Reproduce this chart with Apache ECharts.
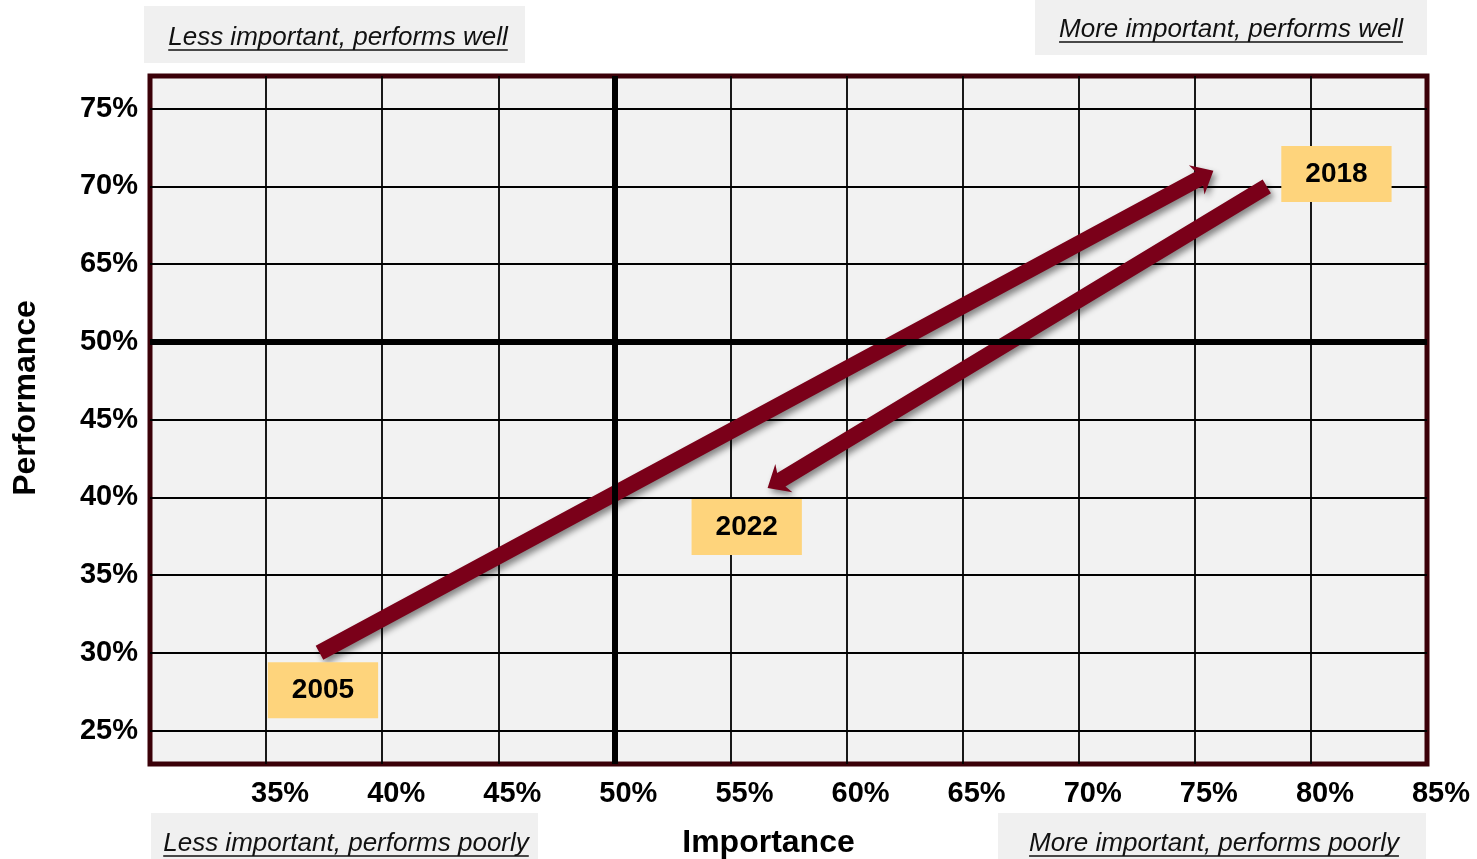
<!DOCTYPE html>
<html>
<head>
<meta charset="utf-8">
<script src="https://cdn.jsdelivr.net/npm/echarts@6/dist/echarts.min.js"></script>
<style>
    html, body { margin: 0; padding: 0; background: #fff; }
    #chart { width: 1477px; height: 859px; }
</style>
</head>
<body>
<div id="chart"></div>
<script>
// tick labels (the performance axis is not linear in the original)
const xTicks = [30, 35, 40, 45, 50, 55, 60, 65, 70, 75, 80, 85];
const yTicks = [25, 30, 35, 40, 45, 50, 65, 70, 75];

// arrows: tail and tip as [importance %, performance %]
const arrowStart = [[37.3, 30.0], [78.1, 70.0]];
const arrowEnd = [[75.8, 71.0], [56.6, 40.6]];

// year callouts
const years = ['2005', '2018', '2022'];
const yearX = [37.45, 81.1, 55.7];
const yearY = [27.6, 70.8, 38.1];

// quadrant captions
const quadrants = [
    'Less important, performs well',
    'More important, performs well',
    'Less important, performs poorly',
    'More important, performs poorly'
];

// performance % -> position on the evenly spaced y axis
const toPos = (v) => {
    for (let i = 0; i < yTicks.length - 1; i++) {
        if (v <= yTicks[i + 1] || i === yTicks.length - 2) {
            return i + (v - yTicks[i]) / (yTicks[i + 1] - yTicks[i]);
        }
    }
};

const chartDom = document.getElementById('chart');
const myChart = echarts.init(chartDom);

const FONT = '"Liberation Sans", Arial, sans-serif';

// measure caption width for the underline
const ctx = document.createElement('canvas').getContext('2d');
ctx.font = 'italic 26px "Liberation Sans"';

const captionBoxes = [
    { x: 144, y: 6, w: 381, h: 57, cx: 338, cy: 38 },
    { x: 1035, y: 0, w: 392, h: 55, cx: 1231, cy: 30 },
    { x: 151, y: 813, w: 387, h: 50, cx: 346, cy: 844 },
    { x: 998, y: 813, w: 428, h: 50, cx: 1214, cy: 844 }
];

const graphics = quadrants.map((txt, i) => {
    const b = captionBoxes[i];
    const w = ctx.measureText(txt).width;
    return {
        type: 'group',
        children: [
            { type: 'rect', shape: { x: b.x, y: b.y, width: b.w, height: b.h }, style: { fill: '#f0f0f0' } },
            {
                type: 'text', x: b.cx, y: b.cy,
                style: { text: txt, font: 'italic 26px ' + FONT, fill: '#111', align: 'center', verticalAlign: 'middle' }
            },
            {
                type: 'line',
                shape: { x1: b.cx - w / 2, y1: b.cy + 12, x2: b.cx + w / 2, y2: b.cy + 12 },
                style: { stroke: '#111', lineWidth: 1.5 }
            }
        ]
    };
});

const gridColors = xTicks.map((v, i) => (i === 0 || i === xTicks.length - 1) ? 'transparent' : '#000');

// block arrow drawn from the two data points
const renderArrow = (params, api) => {
    const p1 = api.coord([api.value(0), api.value(1)]);
    const p2 = api.coord([api.value(2), api.value(3)]);
    const dx = p2[0] - p1[0];
    const dy = p2[1] - p1[1];
    const len = Math.sqrt(dx * dx + dy * dy);
    const ux = dx / len, uy = dy / len;
    const nx = -uy, ny = ux;
    const w = 8, hw = 16.5, hl = 19, notch = 3;
    const bx = p2[0] - ux * hl, by = p2[1] - uy * hl;
    const sx = bx + ux * notch, sy = by + uy * notch;
    return {
        type: 'polygon',
        shape: {
            points: [
                [p1[0] + nx * w, p1[1] + ny * w],
                [sx + nx * w, sy + ny * w],
                [bx + nx * hw, by + ny * hw],
                p2,
                [bx - nx * hw, by - ny * hw],
                [sx - nx * w, sy - ny * w],
                [p1[0] - nx * w, p1[1] - ny * w]
            ]
        },
        style: {
            fill: '#7a0019',
            shadowColor: 'rgba(0, 0, 0, 0.45)',
            shadowBlur: 6,
            shadowOffsetX: 3,
            shadowOffsetY: 4
        }
    };
};

const option = {
    backgroundColor: '#fff',
    animation: false,
    textStyle: { fontFamily: FONT },
    grid: {
        left: 150,
        right: 50,
        top: 76,
        bottom: 95,
        outerBoundsMode: 'none',
        show: true,
        backgroundColor: '#f2f2f2',
        borderColor: '#3b0008',
        borderWidth: 5
    },
    xAxis: {
        type: 'value',
        min: 30,
        max: 85,
        interval: 5,
        name: 'Importance',
        nameLocation: 'middle',
        nameGap: 63,
        nameTextStyle: { fontSize: 32, fontWeight: 'bold', color: '#000', padding: [0, 40, 0, 0] },
        axisLine: { show: false },
        axisTick: { show: false },
        axisLabel: {
            fontSize: 29,
            fontWeight: 'bold',
            color: '#000',
            margin: 15,
            padding: [0, 0, 0, 28],
            formatter: (v) => v === 30 ? '' : v + '%'
        },
        splitLine: { lineStyle: { color: gridColors, width: 1.8 } }
    },
    yAxis: {
        type: 'value',
        min: -0.43,
        max: yTicks.length - 1 + 0.42,
        name: 'Performance',
        nameLocation: 'middle',
        nameRotate: 90,
        nameGap: 108,
        nameTextStyle: { fontSize: 32, fontWeight: 'bold', color: '#000', padding: [0, 0, 0, 44] },
        axisLine: { show: false },
        axisTick: { show: false, customValues: yTicks.map((v, i) => i) },
        axisLabel: {
            customValues: yTicks.map((v, i) => i),
            fontSize: 29,
            fontWeight: 'bold',
            color: '#000',
            margin: 12,
            formatter: (v) => yTicks[Math.round(v)] + '%'
        },
        splitLine: { lineStyle: { color: '#000', width: 1.8 } }
    },
    graphic: graphics,
    series: [
        {
            // the two thick 50% dividers
            type: 'scatter',
            data: [],
            z: 1,
            silent: true,
            markLine: {
                silent: true,
                symbol: ['none', 'none'],
                label: { show: false },
                lineStyle: { color: '#000', width: 6, type: 'solid' },
                data: [{ xAxis: 50 }, { yAxis: toPos(50) }]
            }
        },
        {
            type: 'custom',
            z: 3,
            silent: true,
            renderItem: renderArrow,
            encode: { x: [0, 2], y: [1, 3] },
            data: arrowStart.map((s, i) => [s[0], toPos(s[1]), arrowEnd[i][0], toPos(arrowEnd[i][1])])
        },
        {
            type: 'scatter',
            z: 4,
            silent: true,
            symbolSize: 0,
            itemStyle: { opacity: 1 },
            label: {
                show: true,
                position: 'inside',
                formatter: (p) => years[p.dataIndex],
                fontSize: 28,
                fontWeight: 'bold',
                color: '#000',
                opacity: 1,
                backgroundColor: '#fed47c',
                padding: [14, 24]
            },
            data: years.map((y, i) => [yearX[i], toPos(yearY[i])])
        }
    ]
};

myChart.setOption(option);

window.addEventListener('resize', () => myChart.resize());
</script>
</body>
</html>
